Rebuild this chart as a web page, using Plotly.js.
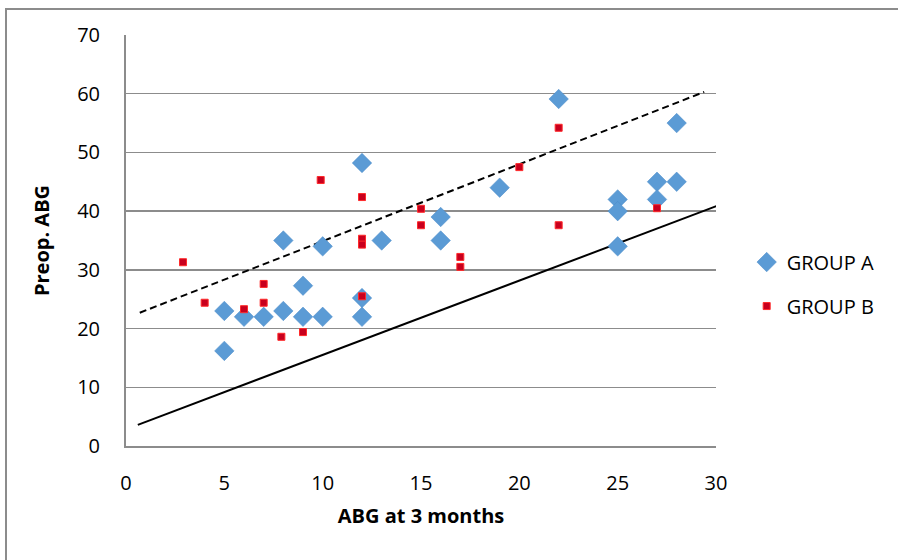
<!DOCTYPE html>
<html>
<head>
<meta charset="utf-8">
<script src="https://cdn.plot.ly/plotly-3.0.1.min.js"></script>
<style>
  html, body { margin: 0; padding: 0; background: #fff; }
  #chart { width: 898px; height: 560px; }
  #frame { position: absolute; left: 5px; top: 8px; width: 900px; height: 560px;
           border-left: 2px solid #8c8c8c; border-top: 2px solid #8c8c8c; pointer-events: none; }
</style>
</head>
<body>
<div id="chart"></div>
<div id="frame"></div>
<script>
// Group A (blue diamonds)
const groupAx = [5, 5, 6, 7, 8, 8, 9, 9, 10, 10, 12, 12, 12, 13, 16, 16, 19, 22, 25, 25, 25, 27, 27, 28, 28];
const groupAy = [23, 16.2, 22, 22, 35, 23, 27.3, 22, 34, 22, 48.2, 25.2, 22, 35, 39, 35, 44, 59.1, 42, 40, 34, 45, 42, 55, 45];

// Group B (red squares)
const groupBx = [2.9, 4, 6, 7, 7, 7.9, 9, 9.9, 12, 12, 12, 12, 15, 15, 17, 17, 20, 22, 22, 27];
const groupBy = [31.3, 24.4, 23.3, 27.6, 24.4, 18.6, 19.4, 45.3, 42.4, 35.3, 34.3, 25.5, 40.4, 37.6, 32.2, 30.5, 47.5, 54.2, 37.6, 40.5];

// Reference lines (endpoints)
const solidLineX = [0.6, 30.45];
const solidLineY = [3.6, 41.4];
const dashedLineX = [0.7, 29.4];
const dashedLineY = [22.7, 60.3];

const xTicks = [0, 5, 10, 15, 20, 25, 30];
const yTicks = [0, 10, 20, 30, 40, 50, 60, 70];

const FONT = '"Open Sans", sans-serif';

const traces = [
  { x: solidLineX, y: solidLineY, mode: 'lines', type: 'scatter', showlegend: false,
    line: { color: '#000', width: 2 }, hoverinfo: 'skip', cliponaxis: false },
  { x: dashedLineX, y: dashedLineY, mode: 'lines', type: 'scatter', showlegend: false,
    line: { color: '#000', width: 2, dash: '7px,4px' }, hoverinfo: 'skip', cliponaxis: false },
  { x: groupAx, y: groupAy, mode: 'markers', type: 'scatter', name: 'GROUP A', legendgroup: 'a',
    marker: { symbol: 'diamond', size: 15, color: '#5b9bd5', line: { color: '#4a8ac8', width: 0.5 } } },
  { x: groupBx, y: groupBy, mode: 'markers', type: 'scatter', name: 'GROUP B', legendgroup: 'b',
    marker: { symbol: 'square', size: 7, color: '#c8001e', line: { color: '#ff2a2a', width: 1 } } }
];

const layout = {
  width: 898, height: 560,
  margin: { l: 126, r: 182, t: 35, b: 114 },
  paper_bgcolor: '#fff', plot_bgcolor: '#fff',
  font: { family: FONT, size: 20, color: '#000' },
  showlegend: true,
  legend: { x: 1.052, y: 0.495, xanchor: 'left', yanchor: 'top', font: { family: FONT, size: 20, color: '#000' },
            itemsizing: 'trace', tracegroupgap: 15, itemwidth: 30, bgcolor: 'rgba(0,0,0,0)' },
  xaxis: {
    range: [0, 30], tickvals: xTicks, ticktext: xTicks.map(String),
    showgrid: false, zeroline: false, showline: true, linecolor: '#8c8c8c', linewidth: 2,
    ticks: '', ticklabelstandoff: 18,
    tickfont: { family: FONT, size: 20 },
    title: { text: '<b>ABG at 3 months</b>', font: { family: FONT, size: 20 }, standoff: 14 }
  },
  yaxis: {
    range: [0, 70], tickvals: yTicks, ticktext: yTicks.map(String),
    showgrid: true, gridcolor: '#8c8c8c', gridwidth: 1.5, zeroline: false,
    showline: true, linecolor: '#8c8c8c', linewidth: 2,
    ticks: '', ticklabelstandoff: 20,
    tickfont: { family: FONT, size: 20 },
    title: { text: '<b>Preop. ABG</b>', font: { family: FONT, size: 20 }, standoff: 22 }
  },
  hovermode: false
};

Plotly.newPlot('chart', traces, layout, { displayModeBar: false, staticPlot: true });
</script>
</body>
</html>
